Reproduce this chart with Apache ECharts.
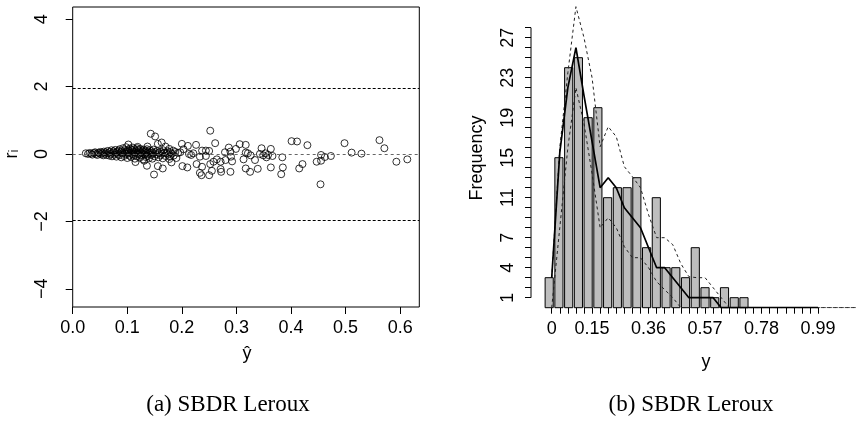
<!DOCTYPE html>
<html><head><meta charset="utf-8">
<script src="https://cdn.jsdelivr.net/npm/echarts@6/dist/echarts.min.js"></script>
<style>html,body{margin:0;padding:0;background:#fff}#c{width:856px;height:425px}</style>
</head><body><div id="c"></div>
<script>
// ---------- panel (a): residuals vs fitted ----------
const scatterPoints = [
[0.024,0.02],[0.028,0.00],[0.031,0.03],[0.034,0.01],[0.036,-0.02],[0.039,0.03],[0.041,0.05],[0.043,0.00],[0.045,-0.03],[0.047,0.04],
[0.049,0.02],[0.051,0.06],[0.052,-0.01],[0.054,0.03],[0.056,-0.04],[0.057,0.07],[0.059,0.01],[0.061,0.05],[0.062,-0.03],[0.064,0.09],
[0.065,0.02],[0.067,-0.05],[0.068,0.06],[0.070,0.00],[0.071,0.11],[0.072,-0.07],[0.074,0.04],[0.075,0.08],[0.076,-0.02],[0.078,0.12],
[0.079,0.03],[0.080,-0.08],[0.081,0.06],[0.083,0.00],[0.084,0.10],[0.085,-0.04],[0.086,0.14],[0.088,0.05],[0.089,-0.10],[0.090,0.08],
[0.091,0.02],[0.092,0.17],[0.094,-0.06],[0.095,0.11],[0.096,0.04],[0.097,-0.01],[0.098,0.20],[0.099,0.07],[0.100,-0.12],[0.101,0.13],
[0.102,0.01],[0.102,0.28],[0.103,0.09],[0.104,-0.05],[0.105,0.16],[0.106,0.04],[0.107,-0.09],[0.108,0.12],[0.109,0.00],[0.110,0.19],
[0.111,0.07],[0.112,-0.03],[0.113,0.14],[0.114,-0.14],[0.115,0.05],[0.115,-0.24],[0.116,0.10],[0.117,-0.07],[0.118,0.17],[0.119,0.21],
[0.119,0.02],[0.120,-0.01],[0.121,0.12],[0.122,0.08],[0.123,-0.11],[0.124,0.15],[0.125,0.04],[0.126,-0.05],[0.127,0.10],[0.128,0.01],
[0.129,-0.16],[0.130,0.13],[0.131,-0.20],[0.131,0.06],[0.132,-0.02],[0.133,0.09],[0.134,-0.09],[0.135,0.03],[0.136,-0.35],[0.136,0.14],
[0.137,0.22],[0.137,-0.06],[0.138,0.07],[0.139,0.00],[0.140,-0.12],[0.141,0.11],[0.142,0.04],[0.143,0.60],[0.144,-0.03],[0.145,0.08],
[0.146,-0.14],[0.147,0.02],[0.148,0.13],[0.149,-0.61],[0.150,-0.07],[0.151,0.52],[0.152,0.05],[0.153,-0.01],[0.155,0.09],[0.156,0.30],
[0.156,-0.36],[0.157,-0.10],[0.158,0.03],[0.160,0.07],[0.161,-0.04],[0.163,0.34],[0.163,0.01],[0.165,-0.43],[0.165,-0.13],[0.166,0.11],
[0.168,0.04],[0.170,0.22],[0.170,-0.06],[0.172,0.02],[0.174,0.08],[0.175,-0.02],[0.177,0.15],[0.177,-0.15],[0.178,-0.08],[0.179,0.05],
[0.181,-0.25],[0.182,0.01],[0.184,0.10],[0.185,-0.05],[0.188,0.06],[0.190,-0.12],[0.193,0.03],
[0.197,0.05],[0.200,0.30],[0.201,-0.36],[0.203,0.14],[0.210,-0.40],[0.211,0.24],[0.213,0.00],[0.217,-0.03],[0.221,0.02],[0.226,0.27],
[0.227,-0.30],[0.233,-0.08],[0.233,-0.56],[0.236,-0.63],[0.237,0.10],[0.237,-0.38],[0.244,0.10],[0.244,-0.06],[0.250,0.09],[0.250,-0.63],
[0.252,0.69],[0.252,-0.30],[0.255,-0.50],[0.258,-0.23],[0.261,0.32],[0.264,-0.16],[0.271,-0.23],[0.271,-0.45],[0.272,-0.53],[0.279,0.05],
[0.280,-0.18],[0.286,0.19],[0.289,0.07],[0.289,-0.53],[0.290,-0.08],[0.292,-0.22],[0.299,0.15],[0.306,0.29],[0.313,-0.16],[0.317,0.27],
[0.317,0.04],[0.317,-0.43],[0.321,0.02],[0.325,-0.53],[0.326,-0.04],[0.334,-0.18],[0.339,-0.44],[0.343,0.00],[0.346,0.17],[0.349,-0.04],
[0.353,0.02],[0.355,-0.10],[0.358,-0.03],[0.363,0.15],[0.363,-0.40],[0.366,-0.06],[0.382,-0.60],[0.384,-0.10],[0.385,-0.40],[0.401,0.38],
[0.411,0.37],[0.415,-0.43],[0.421,-0.30],[0.430,0.26],[0.447,-0.23],[0.454,-0.90],[0.455,-0.20],[0.455,-0.03],[0.462,-0.09],[0.473,-0.06],
[0.498,0.32],[0.511,0.04],[0.529,0.01],[0.562,0.41],[0.571,0.17],[0.593,-0.23],[0.613,-0.16]
];
const fittedTicks = [0, 0.1, 0.2, 0.3, 0.4, 0.5, 0.6];
const residTicks = [-4, -2, 0, 2, 4];
const bandLines = [-1.96, 1.96];
const zeroLine = [0];

// ---------- panel (b): histogram ----------
const binEdges = [-0.0275,0.0087,0.0449,0.0811,0.1173,0.1535,0.1897,0.2259,0.2621,0.2983,0.3345,
                  0.3707,0.4069,0.4431,0.4793,0.5155,0.5517,0.5879,0.6241,0.6603,0.6965,0.7327];
const binCounts = [3,15,24,25,19,20,11,12,12,13,6,11,4,4,3,6,2,1,2,1,1];
const solidX = [0,0.03,0.06,0.09,0.12,0.15,0.18,0.21,0.24,0.27,0.30,0.33,0.36,0.39,0.42,0.45,0.48,0.51,0.54,0.57,0.60,0.63,0.99];
const solidY = [3,15.5,22,26,21.2,16.6,12,13,12,10,9,8,6,4,4,3,2,1,1,1,1,0,0];
const bandX = [0,0.03,0.06,0.09,0.12,0.15,0.18,0.21,0.24,0.27,0.30,0.33,0.36,0.39,0.42,0.45,0.48,0.51,0.54,0.57,0.60,0.63,0.66,1.13];
const upperY = [3,16,23.5,30.1,27,23,16.1,18.1,17.1,14.1,13.1,12,9.3,7,7,6.3,4.4,3.1,3,3,2,1,0,0];
const lowerY = [0,8,16,22,18.4,13.4,8,9,8,6.1,5,5,4,2.6,1.8,1,0,0,0,0,0,0,0,0];
const freqTicks = [1,2,3,4,5,6,7,8,9,10,11,12,13,14,15,16,17,18,19,20,21,22,23,24,25,26,27,28];
const freqLabels = [1,4,7,11,15,19,23,27];
const yTicks = [0,0.03,0.06,0.09,0.12,0.15,0.18,0.21,0.24,0.27,0.30,0.33,0.36,0.39,0.42,0.45,0.48,0.51,
                0.54,0.57,0.60,0.63,0.66,0.69,0.72,0.75,0.78,0.81,0.84,0.87,0.90,0.93,0.96,0.99];
const yLabels = [0,0.15,0.36,0.57,0.78,0.99];

const SANS = 'Liberation Sans';
const histXMin = -0.077, histXMax = 1.131;

const chart = echarts.init(document.getElementById('c'), null, {renderer:'canvas'});
const tickStyle = {show:true, length:7, lineStyle:{color:'#000', width:1}};
const labelBase = {color:'#000', fontFamily:SANS, fontSize:18};
const noLine = {show:false, onZero:false};

chart.setOption({
  animation:false,
  backgroundColor:'#fff',
  grid:[
    {left:72.7, top:7, width:346.6, height:300, show:true, borderColor:'#000', borderWidth:1, backgroundColor:'transparent'},
    {left:531, top:2.7, width:325, height:305}
  ],
  xAxis:[
    {gridIndex:0, type:'value', min:0, max:0.635, axisLine:noLine, splitLine:{show:false},
     axisTick:Object.assign({customValues:fittedTicks}, tickStyle),
     axisLabel:Object.assign({customValues:fittedTicks, margin:12, formatter:v=>v.toFixed(1)}, labelBase)},
    {gridIndex:1, type:'value', min:histXMin, max:histXMax, axisLine:noLine, splitLine:{show:false},
     axisTick:Object.assign({customValues:yTicks}, tickStyle, {length:6}),
     axisLabel:Object.assign({customValues:yLabels, margin:12, formatter:v=>String(v)}, labelBase)}
  ],
  yAxis:[
    {gridIndex:0, type:'value', min:-4.54, max:4.36, axisLine:noLine, splitLine:{show:false},
     axisTick:Object.assign({customValues:residTicks}, tickStyle),
     axisLabel:Object.assign({customValues:residTicks, rotate:90, margin:22, formatter:v=>String(v).replace('-','\u2212')}, labelBase)},
    {gridIndex:1, type:'value', min:0, max:30.5, axisLine:noLine, splitLine:{show:false},
     axisTick:Object.assign({customValues:freqTicks}, tickStyle, {length:6}),
     axisLabel:Object.assign({customValues:freqLabels, rotate:90, margin:14, formatter:v=>String(v)}, labelBase)}
  ],
  series:[
    {type:'scatter', xAxisIndex:0, yAxisIndex:0, data:scatterPoints, symbol:'circle', symbolSize:7,
     itemStyle:{color:'rgba(0,0,0,0)', borderColor:'#000', borderWidth:1}, silent:true,
     markLine:{silent:true, symbol:'none', label:{show:false},
       data:[
         ...bandLines.map(v=>({yAxis:v, lineStyle:{color:'#000', type:[3,2], width:1}})),
         ...zeroLine.map(v=>({yAxis:v, lineStyle:{color:'#666', type:[3,3], width:1}}))
       ]}},
    {type:'custom', xAxisIndex:1, yAxisIndex:1, silent:true, clip:false,
     data:binCounts.map((c,i)=>[binEdges[i], binEdges[i+1], c]),
     encode:{x:[0,1], y:2},
     renderItem:function(params, api){
       const p0 = api.coord([api.value(0), api.value(2)]);
       const p1 = api.coord([api.value(1), 0]);
       return {type:'rect', shape:{x:p0[0]+0.8, y:p0[1], width:p1[0]-p0[0]-1.6, height:p1[1]-p0[1]},
               style:{fill:'#bebebe', stroke:'#000', lineWidth:1}};
     }},
    {type:'line', xAxisIndex:1, yAxisIndex:1, data:bandX.map((x,i)=>[x, upperY[i]]), showSymbol:false, silent:true,
     lineStyle:{color:'#222', width:1, type:[3,3]}, z:3},
    {type:'line', xAxisIndex:1, yAxisIndex:1, data:bandX.map((x,i)=>[x, lowerY[i]]), showSymbol:false, silent:true,
     lineStyle:{color:'#222', width:1, type:[3,3]}, z:3},
    {type:'line', xAxisIndex:1, yAxisIndex:1, data:solidX.map((x,i)=>[x, solidY[i]]), showSymbol:false, silent:true,
     lineStyle:{color:'#000', width:1.7}, z:4},
    // frequency axis line, spanning the first to the last tick (R style)
    {type:'line', xAxisIndex:1, yAxisIndex:1, clip:false, showSymbol:false, silent:true,
     data:[[histXMin, freqTicks[0]], [histXMin, freqTicks[freqTicks.length-1]]],
     lineStyle:{color:'#000', width:1}, z:5}
  ],
  graphic:[
    {type:'text', x:12, y:154, rotation:Math.PI/2, style:{text:'r\u1d62', fontFamily:SANS, fontSize:18, fill:'#000', textAlign:'center', textVerticalAlign:'middle'}},
    {type:'text', x:247, y:354, style:{text:'\u0177', fontFamily:SANS, fontSize:18, fill:'#000', textAlign:'center', textVerticalAlign:'middle'}},
    {type:'text', x:477, y:158, rotation:Math.PI/2, style:{text:'Frequency', fontFamily:SANS, fontSize:18, fill:'#000', textAlign:'center', textVerticalAlign:'middle'}},
    {type:'text', x:706, y:362, style:{text:'y', fontFamily:SANS, fontSize:18, fill:'#000', textAlign:'center', textVerticalAlign:'middle'}},
    {type:'text', x:228, y:405, style:{text:'(a) SBDR Leroux', fontFamily:'Liberation Serif', fontSize:23, fill:'#000', textAlign:'center', textVerticalAlign:'middle'}},
    {type:'text', x:691, y:405, style:{text:'(b) SBDR Leroux', fontFamily:'Liberation Serif', fontSize:23, fill:'#000', textAlign:'center', textVerticalAlign:'middle'}}
  ]
});
</script></body></html>
